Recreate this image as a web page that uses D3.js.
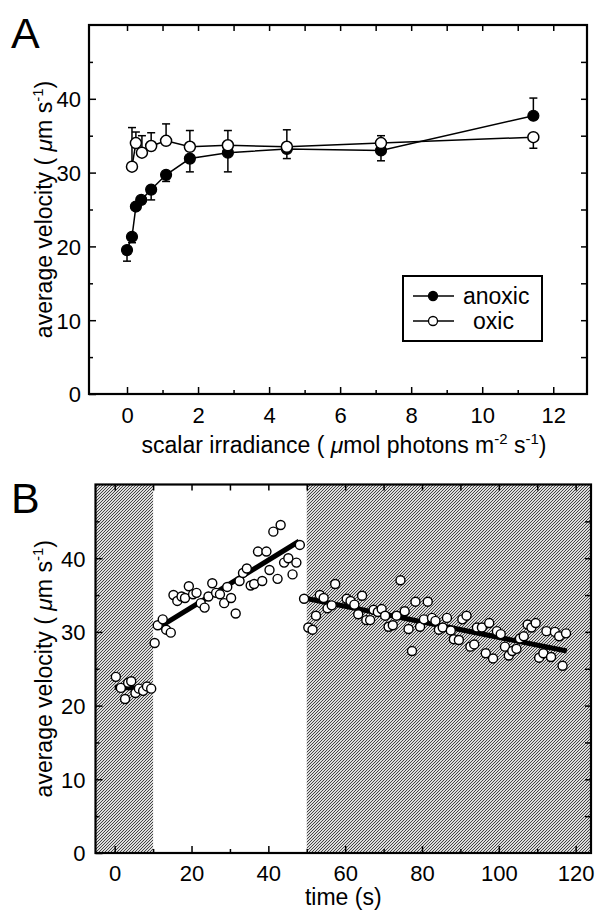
<!DOCTYPE html>
<html>
<head>
<meta charset="utf-8">
<script src="https://cdn.jsdelivr.net/npm/d3@7"></script>
<style>
  body { margin: 0; background: #fff; }
  text { font-family: "Liberation Sans", Arial, sans-serif; fill: #000; }
</style>
</head>
<body>
<div id="chart"></div>
<script>
// ---- panel A data ----
var irrAnoxic = [0.0, 0.14, 0.25, 0.4, 0.68, 1.1, 1.77, 2.84, 4.5, 7.15, 11.44];
var velAnoxic = [19.5, 21.3, 25.4, 26.3, 27.7, 29.7, 31.9, 32.7, 33.2, 33.0, 37.7];
var sdAnoxic  = [1.5, 0.8, 0.5, 0.5, 1.4, 0.9, 1.8, 2.6, 1.3, 1.4, 2.4];

var irrOxic = [0.14, 0.25, 0.42, 0.68, 1.1, 1.77, 2.84, 4.5, 7.15, 11.44];
var velOxic = [30.8, 34.0, 32.7, 33.6, 34.3, 33.5, 33.7, 33.5, 34.0, 34.8];
var sdOxic  = [5.3, 1.5, 2.3, 1.8, 2.3, 2.2, 2.0, 2.3, 1.0, 1.5];

var xTicksA = [0, 2, 4, 6, 8, 10, 12];
var yTicks = [0, 10, 20, 30, 40];

// ---- panel B data ----
var timeB = [0.3, 1.6, 2.7, 3.5, 4.3, 5.4, 6.3, 7.4, 8.4, 9.5,
  10.4, 11.2, 12.5, 13.4, 14.6, 15.3, 16.3, 17.4, 18.3, 19.3, 20.4, 21.3, 22.4, 23.4, 24.4,
  25.4, 26.4, 27.4, 28.5, 29.3, 30.3, 31.5, 32.5, 33.4, 34.4, 35.4, 36.3, 37.3, 38.4, 39.5,
  40.3, 41.3, 42.4, 43.2, 44.1, 45.2, 46.3, 47.3, 48.2,
  49.3, 50.4, 51.5, 52.4, 53.4, 54.4, 55.4, 56.5, 57.4, 60.4, 61.4, 62.4, 63.4, 64.4, 65.5,
  66.5, 67.4, 68.5, 69.5, 70.4, 71.3, 72.4, 73.4, 74.4, 75.5, 76.5, 77.4, 78.3, 79.5, 80.5,
  81.5, 82.6, 83.5, 84.4, 85.4, 86.5, 87.5, 88.3, 89.6, 90.5, 91.6, 92.6, 93.6, 94.3, 95.6,
  96.6, 97.5, 98.5, 99.5, 100.5, 101.6, 102.6, 103.5, 104.6, 105.5, 106.5, 107.5, 108.5,
  109.6, 110.5, 111.6, 112.4, 113.6, 114.6, 115.7, 116.6, 117.5];
var velB = [23.9, 22.4, 20.9, 23.1, 23.3, 21.7, 22.3, 22.0, 22.6, 22.3,
  28.5, 30.9, 31.7, 30.3, 29.9, 35.0, 34.2, 34.8, 34.6, 36.2, 35.1, 35.3, 33.9, 33.3, 34.8,
  36.6, 35.3, 35.1, 33.9, 36.1, 34.6, 32.5, 36.9, 38.0, 38.6, 36.3, 36.5, 40.9, 36.9, 40.9,
  38.4, 43.6, 37.2, 44.5, 39.4, 40.0, 37.8, 39.4, 41.8,
  34.5, 30.6, 30.3, 32.2, 35.0, 34.6, 33.2, 33.6, 36.5, 34.5, 34.2, 33.7, 32.4, 34.9, 31.6,
  31.6, 33.0, 32.7, 33.1, 32.2, 30.7, 30.9, 32.2, 37.0, 32.8, 30.4, 27.4, 34.1, 30.7, 31.7,
  34.1, 31.9, 31.5, 30.3, 30.6, 31.9, 30.2, 29.0, 28.9, 31.7, 32.2, 28.0, 28.3, 30.6, 30.6,
  27.1, 31.2, 26.4, 30.1, 29.7, 28.0, 26.8, 27.4, 27.7, 29.1, 29.4, 31.0, 30.6,
  31.2, 26.5, 27.1, 30.1, 26.6, 30.0, 29.4, 25.4, 29.8];

// regression lines
var fitT0 = [0.0, 11.5, 49.3];
var fitT1 = [9.5, 48.0, 117.7];
var fitV0 = [22.5, 30.6, 34.6];
var fitV1 = [22.3, 42.3, 27.4];

// dark (shaded) intervals in time
var darkT0 = [-5, 50];
var darkT1 = [10, 124];

var xTicksB = [0, 20, 40, 60, 80, 100, 120];

// ---- setup ----
var W = 596, H = 910;
var svg = d3.select("#chart").append("svg")
    .attr("width", W).attr("height", H);

var defs = svg.append("defs");
var pat = defs.append("pattern")
    .attr("id", "hatch")
    .attr("width", 3).attr("height", 3)
    .attr("patternUnits", "userSpaceOnUse");
pat.append("rect").attr("width", 3).attr("height", 3).attr("fill", "#dcdcdc");
pat.append("path")
    .attr("d", "M-1,1 L1,-1 M0,3 L3,0 M2,4 L4,2")
    .attr("stroke", "#333")
    .attr("stroke-width", 0.9);

function range(a, b, s) { return d3.range(a, b + s / 2, s); }

// frame with inward ticks on all sides
function frame(g, x, y, opt) {
    var x0 = x.range()[0], x1 = x.range()[1];
    var y0 = y.range()[0], y1 = y.range()[1];

    // bottom axis labelled
    var bx = g.append("g")
        .attr("transform", "translate(0," + y0 + ")")
        .call(d3.axisBottom(x).tickValues(opt.xMajor).tickSize(-7).tickPadding(opt.xPad));
    g.append("g")
        .attr("transform", "translate(0," + y0 + ")")
        .call(d3.axisBottom(x).tickValues(opt.xMinor).tickSize(-4).tickFormat(""));
    // top ticks
    g.append("g")
        .attr("transform", "translate(0," + y1 + ")")
        .call(d3.axisTop(x).tickValues(opt.xTop).tickSize(-6).tickFormat(""));
    // left axis
    var ly = g.append("g")
        .attr("transform", "translate(" + x0 + ",0)")
        .call(d3.axisLeft(y).tickValues(yTicks).tickSize(-7).tickPadding(opt.yPad));
    g.append("g")
        .attr("transform", "translate(" + x0 + ",0)")
        .call(d3.axisLeft(y).tickValues([5, 15, 25, 35, 45]).tickSize(-4).tickFormat(""));
    // right ticks
    g.append("g")
        .attr("transform", "translate(" + x1 + ",0)")
        .call(d3.axisRight(y).tickValues(range(5, 45, 5)).tickSize(-6).tickFormat(""));

    g.selectAll(".domain").remove();
    g.selectAll(".tick line").attr("stroke", "#000").attr("stroke-width", 1.5);
    bx.selectAll("text").attr("font-size", 22).attr("font-family", null);
    ly.selectAll("text").attr("font-size", 22).attr("font-family", null).attr("dy", "0.36em");

    g.append("rect")
        .attr("x", x0).attr("y", y1)
        .attr("width", x1 - x0).attr("height", y0 - y1)
        .attr("fill", "none")
        .attr("stroke", "#000")
        .attr("stroke-width", 2.2);
}

function yTitle(g, cx, cy) {
    var t = g.append("text")
        .attr("transform", "translate(" + cx + "," + cy + ") rotate(-90)")
        .attr("text-anchor", "middle")
        .attr("font-size", 23);
    t.append("tspan").text("average velocity ( ");
    t.append("tspan").attr("font-style", "italic").text("\u03bc");
    t.append("tspan").text("m s");
    t.append("tspan").attr("font-size", 15).attr("dy", -9).text("-1");
    t.append("tspan").attr("dy", 9).text(")");
}

// ================= PANEL A =================
var xA = d3.scaleLinear().domain([-1.07, 12.95]).range([89, 587]);
var yA = d3.scaleLinear().domain([0, 50]).range([394, 25]);
var gA = svg.append("g");

frame(gA, xA, yA, {
    xMajor: xTicksA,
    xMinor: [1, 3, 5, 7, 9, 11],
    xTop: range(0, 12, 1),
    xPad: 13, yPad: 8
});

var anoxic = irrAnoxic.map(function (d, i) { return { x: d, v: velAnoxic[i], sd: sdAnoxic[i] }; });
var oxic = irrOxic.map(function (d, i) { return { x: d, v: velOxic[i], sd: sdOxic[i] }; });

// error bars pointing away from the other series
function dirOf(p, other, def) {
    var o = other.find(function (q) { return Math.abs(q.x - p.x) < 0.05; });
    if (!o) return def;
    return p.v >= o.v ? 1 : -1;
}
anoxic.forEach(function (p) { p.dir = dirOf(p, oxic, -1); });
oxic.forEach(function (p) { p.dir = dirOf(p, anoxic, 1); });

var lineA = d3.line().x(function (d) { return xA(d.x); }).y(function (d) { return yA(d.v); });

[anoxic, oxic].forEach(function (series) {
    gA.selectAll(null).data(series).enter().append("line")
        .attr("x1", function (d) { return xA(d.x); })
        .attr("x2", function (d) { return xA(d.x); })
        .attr("y1", function (d) { return yA(d.v); })
        .attr("y2", function (d) { return yA(d.v + d.dir * d.sd); })
        .attr("stroke", "#000").attr("stroke-width", 1.5);
    gA.selectAll(null).data(series).enter().append("line")
        .attr("x1", function (d) { return xA(d.x) - 4; })
        .attr("x2", function (d) { return xA(d.x) + 4; })
        .attr("y1", function (d) { return yA(d.v + d.dir * d.sd); })
        .attr("y2", function (d) { return yA(d.v + d.dir * d.sd); })
        .attr("stroke", "#000").attr("stroke-width", 1.5);
});

gA.append("path").datum(anoxic).attr("d", lineA)
    .attr("fill", "none").attr("stroke", "#000").attr("stroke-width", 1.5);
gA.append("path").datum(oxic).attr("d", lineA)
    .attr("fill", "none").attr("stroke", "#000").attr("stroke-width", 1.5);

gA.selectAll("anoxPts").data(anoxic).enter().append("circle")
    .attr("cx", function (d) { return xA(d.x); })
    .attr("cy", function (d) { return yA(d.v); })
    .attr("r", 5.5)
    .attr("fill", "#000").attr("stroke", "#000").attr("stroke-width", 1.2);
gA.selectAll("oxPts").data(oxic).enter().append("circle")
    .attr("cx", function (d) { return xA(d.x); })
    .attr("cy", function (d) { return yA(d.v); })
    .attr("r", 5.5)
    .attr("fill", "#fff").attr("stroke", "#000").attr("stroke-width", 1.5);

// legend
var lg = gA.append("g").attr("transform", "translate(403,276)");
lg.append("rect").attr("width", 139).attr("height", 65)
    .attr("fill", "#fff").attr("stroke", "#000").attr("stroke-width", 2);
[["anoxic", "#000", 20, 60], ["oxic", "#fff", 45, 70]].forEach(function (it) {
    lg.append("line").attr("x1", 10).attr("x2", 51)
        .attr("y1", it[2]).attr("y2", it[2])
        .attr("stroke", "#000").attr("stroke-width", 1.5);
    lg.append("circle").attr("cx", 30).attr("cy", it[2]).attr("r", 4.5)
        .attr("fill", it[1]).attr("stroke", "#000").attr("stroke-width", 1.3);
    lg.append("text").attr("x", it[3]).attr("y", it[2]).attr("dy", "0.33em")
        .attr("font-size", 23).text(it[0]);
});

// titles
gA.append("text").attr("x", 11).attr("y", 48).attr("font-size", 43).text("A");
yTitle(gA, 52, yA(25));
var xt = gA.append("text")
    .attr("x", (xA.range()[0] + xA.range()[1]) / 2 + 6).attr("y", 453)
    .attr("text-anchor", "middle").attr("font-size", 23);
xt.append("tspan").text("scalar irradiance ( ");
xt.append("tspan").attr("font-style", "italic").text("\u03bc");
xt.append("tspan").text("mol photons m");
xt.append("tspan").attr("font-size", 15).attr("dy", -9).text("-2");
xt.append("tspan").attr("dy", 9).text(" s");
xt.append("tspan").attr("font-size", 15).attr("dy", -9).text("-1");
xt.append("tspan").attr("dy", 9).text(")");

// ================= PANEL B =================
var xB = d3.scaleLinear().domain([-5, 124]).range([95.5, 591]);
var yB = d3.scaleLinear().domain([0, 50]).range([853, 484.5]);
var gB = svg.append("g");

// shaded intervals
gB.selectAll("shade").data(darkT0).enter().append("rect")
    .attr("x", function (d) { return xB(d); })
    .attr("width", function (d, i) { return xB(darkT1[i]) - xB(d); })
    .attr("y", yB(50)).attr("height", yB(0) - yB(50))
    .attr("fill", "url(#hatch)");

frame(gB, xB, yB, {
    xMajor: xTicksB,
    xMinor: range(10, 110, 20),
    xTop: range(0, 120, 10),
    xPad: 12, yPad: 10
});

// regression lines
gB.selectAll("fits").data(fitT0).enter().append("line")
    .attr("x1", function (d) { return xB(d); })
    .attr("x2", function (d, i) { return xB(fitT1[i]); })
    .attr("y1", function (d, i) { return yB(fitV0[i]); })
    .attr("y2", function (d, i) { return yB(fitV1[i]); })
    .attr("stroke", "#000").attr("stroke-width", 5);

gB.selectAll("pts").data(timeB).enter().append("circle")
    .attr("cx", function (d) { return xB(d); })
    .attr("cy", function (d, i) { return yB(velB[i]); })
    .attr("r", 4.5)
    .attr("fill", "#fff").attr("stroke", "#000").attr("stroke-width", 1.4);

gB.append("text").attr("x", 11).attr("y", 513).attr("font-size", 43).text("B");
yTitle(gB, 52, yB(25));
gB.append("text")
    .attr("x", (xB.range()[0] + xB.range()[1]) / 2)
    .attr("y", 905).attr("text-anchor", "middle").attr("font-size", 23)
    .text("time (s)");
</script>
</body>
</html>
